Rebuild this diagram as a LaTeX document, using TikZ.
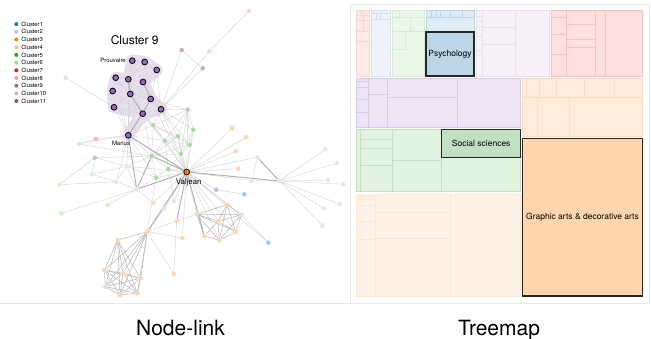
\documentclass[tikz,border=0pt]{standalone}
\usepackage{fontspec}
\setmainfont{TeX Gyre Heros}
\usetikzlibrary{positioning, backgrounds}
\definecolor{clu1}{HTML}{1F77B4}
\definecolor{clu2}{HTML}{AEC7E8}
\definecolor{clu3}{HTML}{FF7F0E}
\definecolor{clu4}{HTML}{FFBB78}
\definecolor{clu5}{HTML}{2CA02C}
\definecolor{clu6}{HTML}{98DF8A}
\definecolor{clu7}{HTML}{D62728}
\definecolor{clu8}{HTML}{FF9896}
\definecolor{clu9}{HTML}{9467BD}
\definecolor{clu10}{HTML}{C5B0D5}
\definecolor{clu11}{HTML}{8C564B}
\colorlet{gmid}{clu5!40!white}
\colorlet{gpale}{clu6!40!white}
\colorlet{opale}{clu4!60!white}
\colorlet{bmid}{clu1!40!white}
\colorlet{bpale}{clu2!40!white}
\colorlet{hullc}{clu10!40!white}

\begin{document}
\begin{tikzpicture}[x=1pt, y=-1pt,
  dot/.style={circle, inner sep=0pt, minimum size=4.6pt},
  focus/.style={circle, inner sep=0pt, minimum size=5.8pt, draw=black, line width=0.8pt},
  link/.style={draw=black!16, line width=0.45pt},
  mid/.style={draw=black!27, line width=0.55pt},
  heavy/.style={draw=black!30, line width=1pt},
  key/.style={circle, inner sep=0pt, minimum size=4pt},
  keytxt/.style={inner sep=0pt, font=\fontsize{5.8}{6}\selectfont},
  lbl/.style={inner sep=0pt, font=\fontsize{6}{7}\selectfont},
  cell/.style={line width=0.6pt},
  pick/.style={draw=black!85, line width=1.4pt, inner sep=0pt,
    font=\fontsize{8.5}{10}\selectfont},
  title/.style={inner sep=0pt, anchor=base, font=\fontsize{21}{24}\selectfont}]
\useasboundingbox (0,0) rectangle (651,339);

% frames
\draw[black!9, line width=0.6pt] (350,4) rectangle (649,303);
\draw[black!9, line width=0.6pt] (0,303) -- (350,303);

% legend
\foreach \i/\c in {1/clu1, 2/clu2, 3/clu3, 4/clu4, 5/clu5, 6/clu6,
    7/clu7, 8/clu8, 9/clu9, 10/clu10, 11/clu11} {
  \node[key, fill=\c] (key\i) at (16.3, 16.4+7.7*\i) {};
  \node[keytxt, right=2.6pt of key\i] (keylbl\i) {Cluster\i};
}

% node-link
\foreach \n/\x/\y in {p1/132.3/60.7, p2/144.7/62, p3/156.7/70, p4/115.7/77.7,
    p5/128.3/79.3, p6/143/82, p7/112.7/91, p8/130.3/94, p9/150.7/99,
    p10/114/107.3, p11/161/109.3, p12/142.7/113.7, mar/128.3/135.3}
  \node[focus, fill=clu9] (\n) at (\x,\y) {};
\node[focus, fill=clu3] (v) at (186.7,172) {};
\foreach \n/\x/\y in {g1/187.7/109.7, g2/153.3/125.3, g3/193.3/129.7, g4/178/136.3,
    g5/165/140.7, g6/189.7/144.7, g7/181/153.7, g8/151.7/156, g9/168.3/169,
    g10/156/177.7, g11/94.7/157.7}
  \node[dot, fill=gmid] (\n) at (\x,\y) {};
\foreach \n/\x/\y in {h1/136.7/189.3, h2/126.7/166.3, h3/116.3/181.7, h4/92/174.3,
    h5/78.7/144, h6/59.3/184.7, h7/107.7/204.7, h8/61.3/213.3, h9/164.3/208.7,
    h10/174/201.3}
  \node[dot, fill=gpale] (\n) at (\x,\y) {};
\foreach \n/\x/\y in {o1/232/128.3, o2/246/137.3, o3/235.7/151.3, o4/238.3/168.7,
    o5/153.3/202.7, o6/176.7/221, o7/182.3/238, o8/196.7/214.3, o9/227/204.7,
    o10/241.3/214.7, o11/218/221.3, o12/235.7/231.7, o13/204.3/236,
    o14/219.3/240.3, o15/147.3/231.7, o16/117.7/240, o17/173.7/274,
    o18/104.3/270.3, o19/123/273.3, o20/140.7/278.3, o21/105.3/286.7,
    o22/120/295, o23/137.3/293.3}
  \node[dot, fill=opale] (\n) at (\x,\y) {};
\foreach \n/\x/\y in {c1/216.3/189.7, c2/244.3/194.3, c3/268.3/242.7}
  \node[dot, fill=bmid] (\n) at (\x,\y) {};
\foreach \n/\x/\y in {d1/257.3/157.3, d2/251.7/180.7, d3/279.3/181, d4/325.3/149.3,
    d5/337/163, d6/328/180, d7/343.3/184.3, d8/339.7/204, d9/323.7/208.3,
    d10/322.3/225.7}
  \node[dot, fill=bpale] (\n) at (\x,\y) {};
\node[dot, fill=clu8!75!white] (k1) at (96,139) {};
\node[dot, fill=clu8!40!white] (k2) at (209.3,51.3) {};
\node[dot, fill=clu8!40!white] (k3) at (249,11) {};
\node[dot, fill=clu11!45!white] (b1) at (181.7,50) {};
\node[dot, fill=clu11!45!white] (b2) at (202.7,68.3) {};
\node[dot, fill=clu10!45!white] (l1) at (65.7,77.7) {};

\begin{pgfonlayer}{background}
  \filldraw[hullc, line width=12pt, line join=round]
    (p1.center) -- (p2.center) -- (p3.center) -- (p6.center) -- (p9.center)
    -- (p11.center) -- (p12.center) -- (mar.center) -- (p12.center)
    -- (p10.center) -- (p7.center) -- (p4.center) -- (p5.center) -- cycle;
  \foreach \a/\b in {p1/p2, p1/p3, p2/p3, p1/p5, p1/p6, p2/p6, p2/p5, p3/p6,
      p3/p9, p4/p5, p4/p7, p4/p8, p5/p6, p6/p8, p5/p9, p7/p8, p7/p10, p7/p12,
      p8/p9, p8/p10, p9/p11, p10/p12, p11/p12, p1/p8, p2/p9, p3/p11, p4/p12,
      p5/p12, p6/p11,
      mar/p4, mar/p5, mar/p7, mar/p8, mar/p9, mar/p10, mar/p11, mar/p6,
      mar/k1, mar/h5, mar/h2, mar/h3, mar/g2, mar/g8, mar/g5, mar/g10,
      k3/k2, k2/p11, b1/b2, b2/p11, b1/p11, l1/p10,
      p11/g1, p11/g2, p11/g3, p11/g4, p11/g6, p12/g2, p12/g8, p9/g1, p12/g5,
      p11/v, p9/v, p12/v,
      g1/g2, g1/g3, g1/g4, g1/g5, g1/g6, g1/g7, g1/v, g3/g6, g3/g7, g3/v,
      g2/g4, g2/g5, g2/g6, g2/g8, g4/g5, g4/g6, g4/g7, g4/g8, g5/g6, g5/g7,
      g5/g8, g5/g9, g6/g7, g6/g8, g6/v, g7/g8, g7/g9, g7/v, g8/g9, g8/g10,
      g9/g10, g9/v, g10/v, g4/v, g5/v,
      h1/h3, h1/h7, h1/h8, h1/h2, h1/g10, h3/h6, h3/h4, h3/h2, h4/h2, h4/g11,
      g11/h6, g11/h2, g11/g8, h5/k1, h5/g8, h2/g8, h2/v, h9/v, h10/v, h9/o15,
      h10/g9, h1/o5, h2/g10,
      v/o1, v/o2, v/o3, v/o4, v/d1, v/d2, v/c1, v/c3, v/o8, v/o9, v/o10,
      v/o11, v/o12, v/o14, v/o7, v/o5,
      c1/c2, d1/d2, d2/d3, d3/d4, d3/d5, d3/d6, d3/d7, d3/d8, d3/d9, d3/d10,
      o10/c3, o6/o8, o6/o17, o15/o6, o15/o7, o15/o17, o15/g10}
    \draw[link] (\a) -- (\b);
  \foreach \a/\b in {o8/o9, o8/o10, o8/o11, o8/o12, o8/o13, o8/o14, o9/o10,
      o9/o11, o9/o12, o9/o14, o10/o11, o10/o12, o10/o14, o11/o12, o11/o13,
      o11/o14, o12/o14, o13/o14,
      o15/o16, o15/o18, o15/o19, o15/o20, o15/o21, o15/o22, o15/o23,
      o16/o18, o16/o19, o16/o20, o16/o21, o16/o22, o16/o23,
      o18/o19, o18/o20, o18/o21, o18/o22, o18/o23, o19/o20, o19/o21,
      o19/o22, o19/o23, o20/o21, o20/o22, o20/o23, o21/o22, o21/o23, o22/o23}
    \draw[mid] (\a) -- (\b);
  \foreach \a/\b in {mar/v, v/d3, d1/d3, mar/h1, v/o15, v/h1, mar/p12, p8/p12,
      p9/p12, v/o6, v/g8, v/o13, p6/p9, p5/p8, h1/g8}
    \draw[heavy] (\a) -- (\b);
\end{pgfonlayer}

\node[inner sep=0pt, font=\fontsize{12}{14}\selectfont] (focuslbl) at (134.7,40) {Cluster 9};
\node[lbl, left=3pt of p1] (p1lbl) {Prouvaire};
\node[lbl] (marlbl) at (121,143.5) {Marius};
\node[inner sep=0pt, font=\fontsize{7.8}{9}\selectfont] (vlbl) at (188.7,182.3) {Valjean};

% treemap
\filldraw[cell, fill=clu8!20!white, draw=clu8!40!white] (356.7,10.7) rectangle (369.3,76);
\draw[cell, clu8!40!white] (356.7,15) -- (369.3,15) (356.7,20) -- (369.3,20)
  (356.7,31) -- (369.3,31) (356.7,41) -- (369.3,41) (360,10.7) -- (360,15)
  (363.5,10.7) -- (363.5,20) (363,20) -- (363,31);
\filldraw[cell, fill=clu2!20!white, draw=clu2!50!white] (371,10.7) rectangle (390.7,76);
\draw[cell, clu2!50!white] (371,13.5) -- (390.7,13.5) (371,19) -- (390.7,19)
  (376,13.5) -- (376,19) (380,13.5) -- (380,19);
\filldraw[cell, fill=clu6!18!white, draw=clu6!42!white] (392.3,10.7) rectangle (424,76);
\draw[cell, clu6!42!white] (392.3,17.3) -- (424,17.3) (399.3,10.7) -- (399.3,17.3)
  (410.7,17.3) -- (410.7,31.3) (392.3,31.3) -- (424,31.3)
  (405.7,31.3) -- (405.7,49) (392.3,49) -- (405.7,49);
\filldraw[cell, fill=clu1!14!white, draw=clu1!30!white] (426,10.7) rectangle (474,32);
\draw[cell, clu1!30!white] (426,17.3) -- (474,17.3);
\foreach \x in {431, 436, 440.7, 450, 462.7}
  \draw[cell, clu1!30!white] (\x,10.7) -- (\x,17.3);
\filldraw[cell, fill=clu10!17!white, draw=clu10!38!white] (476,10.7) rectangle (549.3,76);
\draw[cell, clu10!38!white] (482.3,10.7) -- (482.3,76) (515.7,10.7) -- (515.7,76)
  (482.3,27) -- (515.7,27) (482.3,44) -- (515.7,44);
\foreach \y in {16, 21, 26, 36, 50}
  \draw[cell, clu10!38!white] (476,\y) -- (482.3,\y);
\filldraw[cell, fill=clu8!30!white, draw=clu8!60!white] (551.7,10.7) rectangle (642.7,76);
\draw[cell, clu8!60!white] (566.7,10.7) -- (566.7,76) (595.7,10.7) -- (595.7,76)
  (605.7,10.7) -- (605.7,76);
\foreach \y in {17.7, 34, 54}
  \draw[cell, clu8!60!white] (551.7,\y) -- (566.7,\y);
\foreach \y in {24.3, 39, 47.7}
  \draw[cell, clu8!60!white] (566.7,\y) -- (595.7,\y);
\filldraw[cell, fill=clu9!17!white, draw=clu9!35!white] (356.7,78) rectangle (520.7,127.3);
\draw[cell, clu9!35!white] (368.7,78) -- (368.7,127.3) (387.3,78) -- (387.3,127.3)
  (457.3,78) -- (457.3,127.3) (368.7,94.3) -- (387.3,94.3) (387.3,97.3) -- (457.3,97.3);
\foreach \y in {81.3, 87.3, 99.3, 112.3}
  \draw[cell, clu9!35!white] (356.7,\y) -- (368.7,\y);
\filldraw[cell, fill=clu3!15!white, draw=clu3!27!white] (522.7,78) rectangle (642.7,136.7);
\draw[cell, clu3!27!white] (522.7,97.3) -- (642.7,97.3);
\foreach \x in {526.7, 539, 556.7, 584.3, 614}
  \draw[cell, clu3!27!white] (\x,78) -- (\x,97.3);
\foreach \x in {537.7, 569}
  \draw[cell, clu3!27!white] (\x,97.3) -- (\x,136.7);
\filldraw[cell, fill=clu5!14!white, draw=clu5!30!white] (356.7,129.7) rectangle (520.7,191.3);
\draw[cell, clu5!30!white] (360,129.7) -- (360,191.3) (392.3,129.7) -- (392.3,191.3)
  (441.7,157.3) -- (441.7,191.3) (392.3,160.3) -- (441.7,160.3);
\foreach \y in {139, 148.7, 165}
  \draw[cell, clu5!30!white] (360,\y) -- (392.3,\y);
\filldraw[cell, fill=clu4!17!white, draw=clu4!35!white] (356.7,194) rectangle (520.7,296);
\draw[cell, clu4!35!white] (375.7,194) -- (375.7,296) (450.3,194) -- (450.3,296)
  (375.7,212) -- (450.3,212) (375.7,238.3) -- (450.3,238.3);
\foreach \y in {196.7, 199.3, 205.7, 221.3, 239}
  \draw[cell, clu4!35!white] (356.7,\y) -- (375.7,\y);

\node[pick, fill=clu1!30!white, minimum width=48pt, minimum height=44pt] (psy) at (450,54) {Psychology};
\node[pick, fill=clu5!30!white, minimum width=79pt, minimum height=27.6pt] (soc) at (481.2,143.5) {Social sciences};
\node[pick, fill=clu4!60!white, minimum width=120.4pt, minimum height=157.7pt] (art) at (582.5,217.2) {Graphic arts \& decorative arts};

\node[title] (nodelink) at (180.5,335) {Node-link};
\node[title] (treemap) at (499,335) {Treemap};
\end{tikzpicture}
\end{document}
